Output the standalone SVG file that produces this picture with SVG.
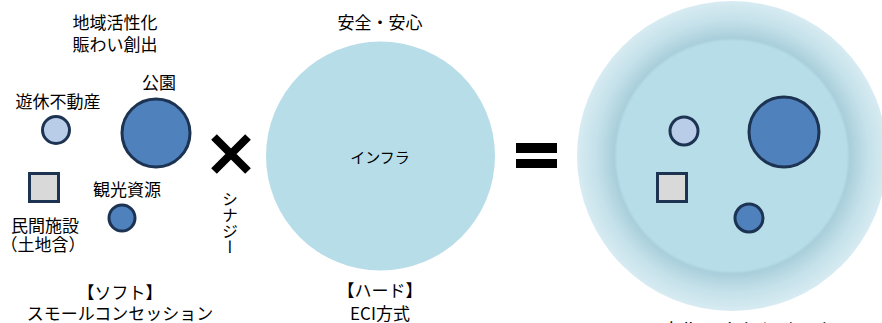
<svg xmlns="http://www.w3.org/2000/svg" width="882" height="323" viewBox="0 0 882 323">
<style>
text{font-family:"Noto Sans CJK JP","Liberation Sans",sans-serif;font-size:17px;fill:#000;text-anchor:middle;dominant-baseline:central}
.pale{fill:#b9cde9;stroke:#1c3352;stroke-width:3}
.blue{fill:#4f81bd;stroke:#1c3352;stroke-width:3}
.sq{fill:#d9d9d9;stroke:#1c3352;stroke-width:3}
.mark{stroke:#000;stroke-width:8;fill:none}
</style>
<defs>
<radialGradient id="glow" cx="0.5" cy="0.5" r="0.5">
<stop offset="0" stop-color="#b7dde8"/>
<stop offset="0.74" stop-color="#b7dde8"/>
<stop offset="0.76" stop-color="#a9cfdb"/>
<stop offset="0.88" stop-color="#c5e1ea"/>
<stop offset="1" stop-color="#d7ebf2"/>
</radialGradient>
</defs>
<rect width="882" height="323" fill="#fff"/>

<g id="soft">
<text x="115" y="21">地域活性化</text>
<text x="115" y="43">賑わい創出</text>
<g id="idle">
<text x="58" y="100">遊休不動産</text>
<circle class="pale" cx="56" cy="130" r="13.5"/>
</g>
<g id="park">
<text x="159" y="81">公園</text>
<circle class="blue" cx="156" cy="133" r="34"/>
</g>
<g id="private">
<rect class="sq" x="29.5" y="173.5" width="29" height="28"/>
<text x="45" y="224">民間施設</text>
<text x="43" y="243">（土地含）</text>
</g>
<g id="tourism">
<text x="127" y="188">観光資源</text>
<circle class="blue" cx="122" cy="218" r="13"/>
</g>
<text x="120" y="291">【ソフト】</text>
<text x="120" y="312">スモールコンセッション</text>
</g>

<g id="times">
<path class="mark" d="M214,137 L248,171 M248,137 L214,171"/>
<text x="230" y="191" style="writing-mode:vertical-rl;text-anchor:start;dominant-baseline:auto;font-size:16px">シナジー</text>
</g>

<g id="hard">
<text x="380" y="21">安全・安心</text>
<circle cx="380.5" cy="156" r="114.5" fill="#b7dde8"/>
<text x="380" y="156" style="font-size:15px">インフラ</text>
<text x="380" y="289">【ハード】</text>
<text x="380" y="312">ECI方式</text>
</g>

<g id="equals">
<rect x="516" y="143" width="41" height="10" fill="#000"/>
<rect x="516" y="159" width="41" height="9" fill="#000"/>
</g>

<g id="local">
<circle cx="732" cy="156" r="155" fill="url(#glow)"/>
<circle cx="732" cy="156" r="115" fill="#b7dde8"/>
<circle class="pale" cx="684" cy="131" r="14"/>
<circle class="blue" cx="784" cy="132" r="35"/>
<rect class="sq" x="657.5" y="173.5" width="29" height="28"/>
<circle class="blue" cx="749" cy="218" r="14"/>
<text x="733" y="327" style="font-size:17.5px">ローカル・イノベーション</text>
</g>
</svg>
